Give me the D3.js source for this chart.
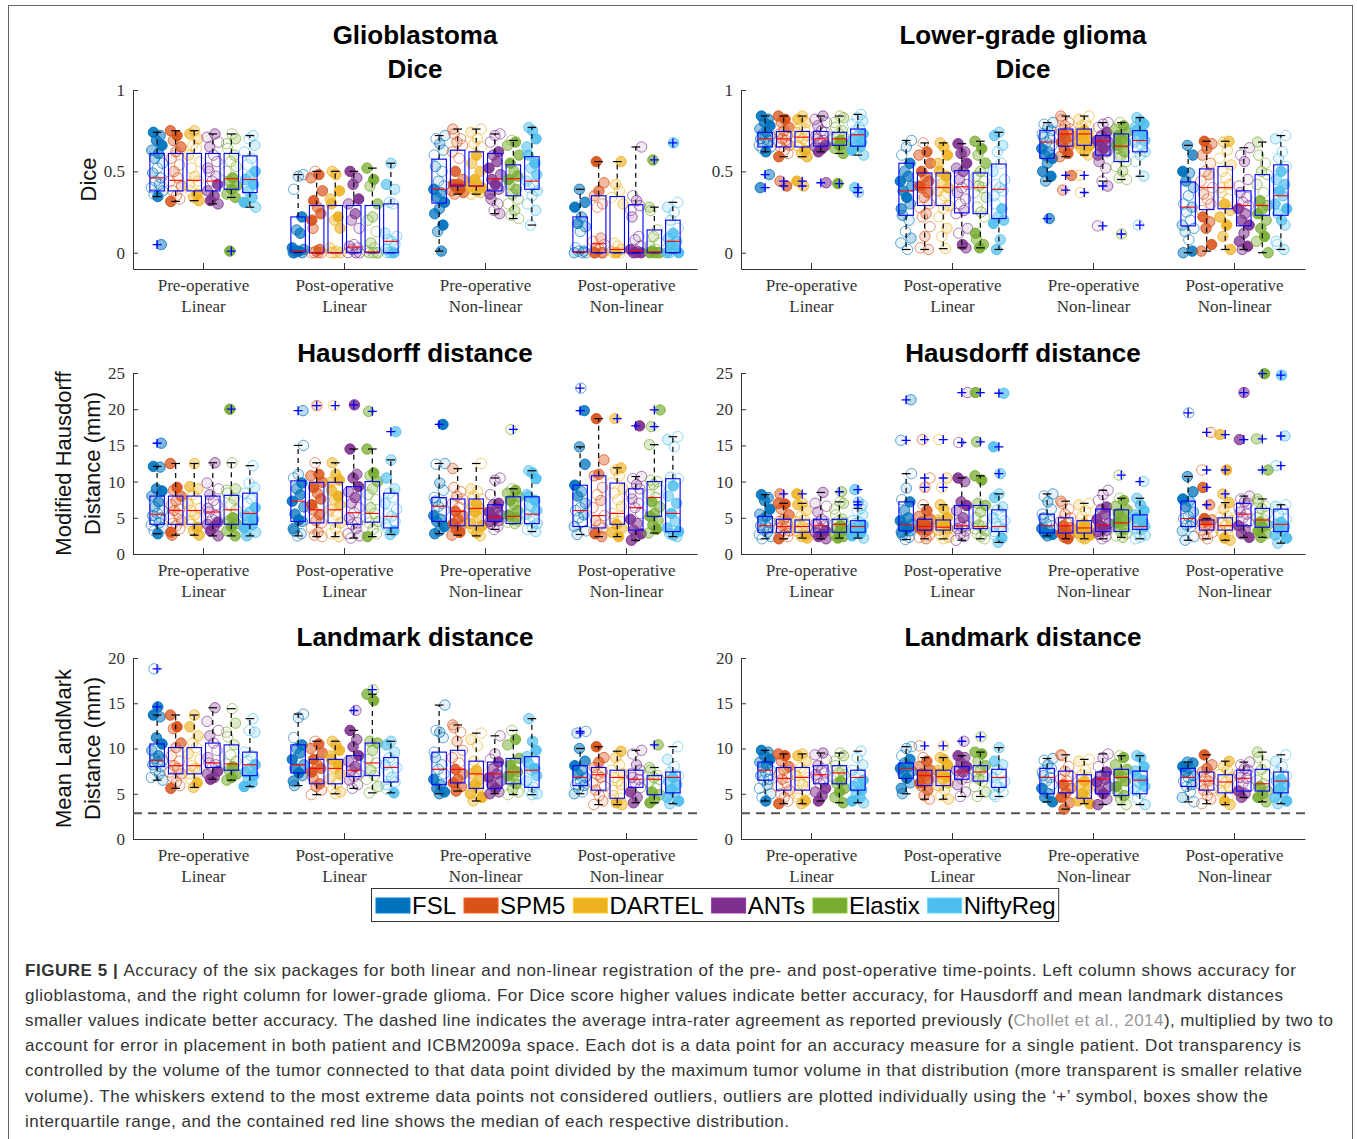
<!DOCTYPE html>
<html>
<head>
<meta charset="utf-8">
<script src="https://cdn.jsdelivr.net/npm/d3@7"></script>
<style>
body { margin: 0; background: #fff; }
svg { display: block; }
</style>
</head>
<body>
<svg id="fig" width="1357" height="1139"></svg>
<script>
const packages = ["FSL", "SPM5", "DARTEL", "ANTs", "Elastix", "NiftyReg"]
const packageColors = ["#0072BD", "#D95319", "#EDB120", "#7E2F8E", "#77AC30", "#4DBEEE"]
const stageNames = ["Pre-operative", "Post-operative", "Pre-operative", "Post-operative"]
const stageMethods = ["Linear", "Linear", "Non-linear", "Non-linear"]

const diceTicks = [0, 0.5, 1]
const hausdorffTicks = [0, 5, 10, 15, 20, 25]
const landmarkTicks = [0, 5, 10, 15, 20]
const intraRaterAgreement = 2.85

// box stats per stage, per package: [lower whisker, q1, median, q3, upper whisker]
const gbmDiceStats = [
    [[0.345, 0.38, 0.46, 0.61, 0.74], [0.315, 0.38, 0.445, 0.61, 0.75], [0.32, 0.38, 0.445, 0.61, 0.75], [0.30, 0.38, 0.44, 0.61, 0.73], [0.34, 0.39, 0.455, 0.61, 0.73], [0.28, 0.37, 0.45, 0.595, 0.72]],
    [[0, 0.005, 0.01, 0.22, 0.48], [0, 0, 0, 0.29, 0.5], [0, 0, 0, 0.29, 0.5], [0, 0, 0.035, 0.29, 0.5], [0, 0, 0.005, 0.29, 0.52], [0, 0, 0.07, 0.30, 0.55]],
    [[0.01, 0.305, 0.39, 0.575, 0.72], [0.36, 0.41, 0.42, 0.63, 0.76], [0.36, 0.41, 0.41, 0.62, 0.76], [0.24, 0.38, 0.455, 0.61, 0.73], [0.21, 0.35, 0.455, 0.54, 0.69], [0.17, 0.39, 0.44, 0.59, 0.77]],
    [[0, 0.005, 0.005, 0.22, 0.39], [0, 0, 0.055, 0.35, 0.56], [0, 0, 0.02, 0.345, 0.56], [0, 0, 0.01, 0.295, 0.65], [0, 0, 0.005, 0.14, 0.28], [0, 0, 0.07, 0.2, 0.31]]
]
const gbmDiceOutliers = [
    [[0.05], [], [], [], [0.01], []],
    [[], [], [], [], [], []],
    [[], [], [], [], [], []],
    [[], [], [], [], [0.57], [0.675]]
]
const gbmDicePoints = [
    [[0.74, 0.72, 0.69, 0.66, 0.63, 0.61, 0.58, 0.55, 0.52, 0.49, 0.46, 0.44, 0.42, 0.40, 0.38, 0.36, 0.345],
     [0.75, 0.72, 0.69, 0.65, 0.62, 0.58, 0.54, 0.5, 0.46, 0.44, 0.41, 0.38, 0.35, 0.33, 0.315],
     [0.75, 0.73, 0.7, 0.66, 0.64, 0.6, 0.56, 0.52, 0.47, 0.44, 0.42, 0.38, 0.36, 0.34, 0.32],
     [0.73, 0.71, 0.68, 0.65, 0.6, 0.56, 0.52, 0.5, 0.47, 0.44, 0.42, 0.38, 0.35, 0.32, 0.30],
     [0.73, 0.7, 0.67, 0.64, 0.6, 0.56, 0.53, 0.5, 0.46, 0.44, 0.41, 0.39, 0.36, 0.34],
     [0.72, 0.7, 0.66, 0.62, 0.58, 0.54, 0.5, 0.47, 0.45, 0.42, 0.38, 0.34, 0.31, 0.28]],
    [[0.48, 0.47, 0.39, 0.22, 0.14, 0.12, 0.03, 0.02, 0.01, 0.01, 0, 0, 0],
     [0.5, 0.48, 0.46, 0.38, 0.32, 0.28, 0.24, 0.2, 0.15, 0.02, 0.01, 0, 0, 0, 0],
     [0.5, 0.48, 0.38, 0.33, 0.3, 0.22, 0.2, 0.15, 0.03, 0.01, 0, 0, 0, 0],
     [0.5, 0.46, 0.42, 0.33, 0.3, 0.24, 0.2, 0.15, 0.05, 0.04, 0.03, 0.02, 0, 0, 0],
     [0.52, 0.45, 0.41, 0.3, 0.22, 0.2, 0.13, 0.06, 0.03, 0.01, 0, 0, 0, 0],
     [0.55, 0.42, 0.39, 0.31, 0.3, 0.12, 0.1, 0.08, 0.07, 0.05, 0.02, 0, 0, 0]],
    [[0.72, 0.7, 0.67, 0.63, 0.6, 0.53, 0.5, 0.44, 0.41, 0.39, 0.37, 0.34, 0.31, 0.27, 0.24, 0.17, 0.13, 0.01],
     [0.76, 0.73, 0.7, 0.68, 0.66, 0.62, 0.58, 0.5, 0.45, 0.42, 0.42, 0.41, 0.4, 0.39, 0.38, 0.37, 0.36],
     [0.76, 0.74, 0.7, 0.67, 0.65, 0.6, 0.55, 0.5, 0.45, 0.42, 0.41, 0.4, 0.39, 0.38, 0.37, 0.36],
     [0.73, 0.72, 0.68, 0.62, 0.6, 0.56, 0.52, 0.48, 0.45, 0.42, 0.39, 0.36, 0.33, 0.3, 0.26, 0.24],
     [0.69, 0.68, 0.66, 0.6, 0.55, 0.5, 0.47, 0.45, 0.42, 0.39, 0.36, 0.33, 0.3, 0.26, 0.23, 0.21],
     [0.77, 0.75, 0.7, 0.65, 0.6, 0.55, 0.52, 0.48, 0.44, 0.42, 0.4, 0.38, 0.35, 0.3, 0.26, 0.17]],
    [[0.39, 0.31, 0.28, 0.22, 0.18, 0.16, 0.13, 0.03, 0.01, 0.01, 0, 0, 0],
     [0.56, 0.43, 0.38, 0.35, 0.3, 0.28, 0.09, 0.07, 0.05, 0.03, 0.02, 0, 0, 0, 0],
     [0.56, 0.42, 0.38, 0.34, 0.3, 0.06, 0.04, 0.02, 0.01, 0, 0, 0],
     [0.65, 0.35, 0.32, 0.29, 0.26, 0.22, 0.1, 0.08, 0.04, 0.02, 0.01, 0, 0, 0],
     [0.28, 0.26, 0.14, 0.1, 0.06, 0.04, 0.02, 0.01, 0, 0, 0, 0],
     [0.31, 0.28, 0.25, 0.2, 0.15, 0.12, 0.09, 0.07, 0.05, 0.02, 0, 0, 0]]
]

const lggDiceStats = [
    [[0.62, 0.65, 0.70, 0.74, 0.84], [0.59, 0.65, 0.70, 0.745, 0.84], [0.59, 0.65, 0.71, 0.745, 0.84], [0.62, 0.655, 0.70, 0.745, 0.84], [0.61, 0.66, 0.70, 0.74, 0.84], [0.60, 0.655, 0.725, 0.76, 0.85]],
    [[0.02, 0.23, 0.38, 0.55, 0.69], [0.02, 0.29, 0.40, 0.49, 0.675], [0.025, 0.29, 0.40, 0.49, 0.675], [0.03, 0.245, 0.405, 0.505, 0.67], [0.03, 0.24, 0.40, 0.49, 0.685], [0.02, 0.21, 0.39, 0.545, 0.74]],
    [[0.44, 0.58, 0.68, 0.75, 0.80], [0.59, 0.655, 0.73, 0.76, 0.84], [0.60, 0.66, 0.73, 0.76, 0.84], [0.44, 0.60, 0.685, 0.72, 0.80], [0.45, 0.56, 0.655, 0.73, 0.80], [0.47, 0.62, 0.69, 0.75, 0.83]],
    [[0, 0.165, 0.28, 0.435, 0.66], [0.01, 0.265, 0.40, 0.515, 0.685], [0.02, 0.27, 0.40, 0.53, 0.685], [0.02, 0.165, 0.29, 0.38, 0.645], [0, 0.23, 0.29, 0.48, 0.68], [0.02, 0.23, 0.35, 0.54, 0.72]]
]
const lggDiceOutliers = [
    [[0.48, 0.40], [0.44, 0.41], [0.44, 0.41], [0.43], [0.425], [0.40, 0.37]],
    [[], [], [], [], [], []],
    [[0.21], [0.475, 0.385], [0.475, 0.37], [0.41, 0.165], [0.115], [0.17]],
    [[], [], [], [], [], []]
]
const lggDicePoints = [
    [[0.84, 0.82, 0.8, 0.78, 0.76, 0.74, 0.73, 0.72, 0.71, 0.7, 0.69, 0.68, 0.67, 0.66, 0.65, 0.64, 0.62],
     [0.84, 0.82, 0.8, 0.77, 0.75, 0.73, 0.72, 0.7, 0.69, 0.68, 0.66, 0.65, 0.63, 0.61, 0.59],
     [0.84, 0.82, 0.8, 0.78, 0.76, 0.74, 0.72, 0.71, 0.7, 0.68, 0.66, 0.65, 0.63, 0.61, 0.59],
     [0.84, 0.82, 0.8, 0.78, 0.75, 0.74, 0.72, 0.7, 0.69, 0.68, 0.66, 0.65, 0.64, 0.62],
     [0.84, 0.83, 0.8, 0.77, 0.75, 0.73, 0.71, 0.7, 0.69, 0.68, 0.67, 0.66, 0.64, 0.61],
     [0.85, 0.83, 0.81, 0.79, 0.77, 0.75, 0.73, 0.72, 0.7, 0.68, 0.66, 0.65, 0.63, 0.6]],
    [[0.69, 0.65, 0.6, 0.55, 0.5, 0.47, 0.44, 0.41, 0.38, 0.34, 0.3, 0.27, 0.23, 0.2, 0.13, 0.09, 0.06, 0.02],
     [0.675, 0.62, 0.6, 0.55, 0.5, 0.47, 0.44, 0.41, 0.4, 0.37, 0.34, 0.3, 0.28, 0.24, 0.22, 0.16, 0.1, 0.03, 0.02],
     [0.675, 0.65, 0.6, 0.55, 0.5, 0.47, 0.43, 0.4, 0.38, 0.35, 0.32, 0.29, 0.27, 0.22, 0.15, 0.1, 0.025],
     [0.67, 0.62, 0.61, 0.55, 0.52, 0.5, 0.45, 0.42, 0.4, 0.37, 0.33, 0.3, 0.26, 0.24, 0.15, 0.12, 0.05, 0.03],
     [0.685, 0.64, 0.6, 0.55, 0.5, 0.47, 0.44, 0.41, 0.4, 0.37, 0.34, 0.28, 0.25, 0.22, 0.12, 0.08, 0.05, 0.03],
     [0.74, 0.72, 0.66, 0.62, 0.55, 0.5, 0.45, 0.42, 0.4, 0.38, 0.35, 0.3, 0.27, 0.22, 0.2, 0.18, 0.08, 0.02]],
    [[0.80, 0.79, 0.77, 0.75, 0.73, 0.71, 0.7, 0.68, 0.66, 0.64, 0.62, 0.6, 0.58, 0.55, 0.5, 0.47, 0.44],
     [0.84, 0.82, 0.8, 0.78, 0.76, 0.75, 0.74, 0.73, 0.72, 0.7, 0.68, 0.66, 0.64, 0.61, 0.59],
     [0.84, 0.82, 0.8, 0.78, 0.77, 0.75, 0.74, 0.73, 0.71, 0.69, 0.67, 0.66, 0.64, 0.62, 0.6],
     [0.80, 0.79, 0.77, 0.74, 0.72, 0.7, 0.69, 0.68, 0.66, 0.64, 0.62, 0.6, 0.56, 0.52, 0.44],
     [0.80, 0.78, 0.76, 0.74, 0.72, 0.7, 0.68, 0.66, 0.64, 0.62, 0.59, 0.56, 0.53, 0.5, 0.46, 0.45],
     [0.83, 0.81, 0.79, 0.77, 0.75, 0.73, 0.71, 0.69, 0.68, 0.66, 0.64, 0.62, 0.6, 0.56, 0.47]],
    [[0.66, 0.6, 0.5, 0.49, 0.44, 0.4, 0.35, 0.3, 0.28, 0.25, 0.2, 0.17, 0.15, 0.13, 0.08, 0.01, 0],
     [0.685, 0.67, 0.64, 0.6, 0.55, 0.5, 0.48, 0.44, 0.4, 0.36, 0.33, 0.3, 0.26, 0.22, 0.19, 0.15, 0.05, 0.01],
     [0.685, 0.68, 0.63, 0.58, 0.54, 0.5, 0.46, 0.42, 0.4, 0.37, 0.33, 0.3, 0.26, 0.22, 0.17, 0.1, 0.02],
     [0.645, 0.6, 0.56, 0.45, 0.41, 0.37, 0.34, 0.31, 0.29, 0.27, 0.24, 0.2, 0.17, 0.12, 0.07, 0.04, 0.02],
     [0.68, 0.6, 0.55, 0.5, 0.48, 0.42, 0.37, 0.32, 0.29, 0.27, 0.24, 0.2, 0.15, 0.1, 0.07, 0.0],
     [0.72, 0.7, 0.62, 0.58, 0.53, 0.5, 0.45, 0.42, 0.38, 0.35, 0.3, 0.27, 0.24, 0.2, 0.17, 0.07, 0.05, 0.02]]
]

const gbmHausStats = [
    [[2.8, 4.1, 5.5, 8.0, 12.1], [2.6, 4.1, 6.0, 8.0, 12.5], [2.6, 4.1, 6.0, 8.0, 12.5], [2.5, 4.1, 5.8, 8.0, 12.6], [2.5, 4.1, 6.1, 8.1, 12.6], [2.5, 4.1, 5.6, 8.4, 12.2]],
    [[2.5, 4.5, 7.3, 10.1, 15.0], [2.4, 4.3, 6.1, 9.9, 12.6], [2.4, 4.3, 6.1, 9.9, 12.6], [2.2, 4.1, 5.7, 9.3, 14.5], [2.4, 4.4, 5.6, 10.0, 14.5], [2.7, 3.6, 5.2, 8.4, 13.0]],
    [[2.8, 4.5, 6.6, 7.8, 12.5], [2.6, 3.9, 5.9, 7.6, 11.8], [2.5, 3.9, 6.3, 7.6, 12.5], [3.4, 4.5, 5.2, 6.8, 10.5], [4.2, 4.2, 5.2, 7.9, 9.0], [3.1, 4.2, 5.5, 7.9, 11.5]],
    [[2.7, 3.8, 6.0, 9.5, 14.8], [2.4, 3.6, 5.3, 10.8, 18.7], [2.4, 4.1, 5.6, 9.8, 11.9], [1.9, 3.3, 6.4, 9.0, 10.7], [2.9, 5.2, 7.8, 10.0, 15.1], [2.4, 3.1, 5.6, 10.4, 16.2]]
]
const gbmHausOutliers = [
    [[15.3], [], [], [], [20.0], []],
    [[19.8], [20.5], [20.5], [20.6], [19.7], [16.9]],
    [[17.9], [], [], [], [17.2], []],
    [[22.9, 19.8], [], [18.7], [17.7], [19.9, 17.6], []]
]
const gbmHausPoints = [
    [[12.1, 12.0, 9.0, 8.7, 8.0, 7.2, 6.5, 6.0, 5.6, 5.3, 5.0, 4.6, 4.3, 4.0, 3.6, 3.2, 2.8],
     [12.5, 9.2, 8.8, 8.0, 7.3, 6.8, 6.2, 6.0, 5.5, 5.0, 4.6, 4.2, 3.9, 3.5, 3.0, 2.6],
     [12.5, 9.3, 9.0, 8.2, 7.6, 6.9, 6.3, 6.0, 5.4, 5.0, 4.5, 4.1, 3.7, 3.2, 2.6],
     [12.6, 9.8, 9.0, 8.2, 7.4, 6.8, 6.3, 5.8, 5.3, 4.8, 4.4, 4.1, 3.8, 3.2, 2.5],
     [12.6, 9.0, 8.8, 8.4, 7.6, 6.8, 6.1, 5.5, 5.0, 4.6, 4.2, 3.8, 3.2, 2.5],
     [12.2, 9.8, 9.2, 8.4, 7.6, 7.0, 6.4, 5.8, 5.3, 4.8, 4.4, 4.0, 3.6, 3.0, 2.5]],
    [[15.0, 11.0, 10.5, 9.8, 9.0, 8.2, 7.3, 6.5, 5.5, 4.7, 4.5, 3.5, 3.2, 2.8, 2.5],
     [12.6, 11.0, 10.8, 9.9, 9.2, 8.4, 7.6, 6.8, 6.1, 5.4, 4.6, 4.3, 3.6, 3.0, 2.6, 2.4],
     [12.6, 11.0, 10.2, 9.9, 8.8, 8.0, 7.5, 6.8, 6.1, 5.4, 4.6, 4.3, 3.5, 2.8, 2.4],
     [14.5, 11.0, 10.5, 9.3, 8.6, 7.8, 7.0, 6.4, 5.7, 5.0, 4.3, 4.1, 3.5, 2.8, 2.5, 2.2],
     [14.5, 11.2, 10.8, 10.0, 9.0, 8.2, 7.5, 6.4, 5.6, 5.0, 4.5, 4.3, 3.4, 2.8, 2.4],
     [13.0, 10.5, 9.0, 8.4, 7.8, 7.0, 6.2, 5.5, 5.2, 4.5, 4.0, 3.6, 3.2, 2.7]],
    [[12.5, 12.4, 9.8, 8.8, 7.8, 7.3, 7.0, 6.6, 6.0, 5.3, 4.8, 4.5, 3.8, 3.2, 2.8],
     [11.8, 9.2, 8.6, 8.0, 7.6, 7.0, 6.4, 5.9, 5.3, 4.8, 4.2, 3.9, 3.4, 3.0, 2.6],
     [12.5, 9.0, 8.6, 8.0, 7.6, 7.0, 6.6, 6.3, 5.8, 5.0, 4.2, 3.9, 3.4, 2.9, 2.5],
     [10.5, 10.2, 8.2, 7.0, 6.8, 6.4, 5.8, 5.4, 5.2, 4.9, 4.6, 4.5, 4.2, 3.8, 3.4],
     [9.0, 8.8, 8.4, 7.9, 7.4, 6.8, 6.0, 5.4, 5.2, 5.0, 4.8, 4.6, 4.4, 4.2],
     [11.5, 11.2, 10.4, 8.2, 7.9, 7.4, 6.6, 6.0, 5.5, 5.0, 4.6, 4.2, 3.8, 3.4, 3.1]],
    [[14.8, 12.4, 9.5, 8.6, 8.0, 7.0, 6.4, 6.0, 5.4, 5.0, 4.4, 3.8, 3.2, 2.7],
     [18.7, 13.0, 11.0, 10.8, 9.2, 8.2, 7.4, 6.4, 5.3, 4.6, 4.0, 3.6, 3.2, 2.8, 2.4],
     [11.9, 11.6, 10.8, 9.8, 9.0, 8.4, 7.5, 6.6, 5.6, 5.0, 4.5, 4.1, 3.6, 3.0, 2.4],
     [10.7, 10.4, 9.6, 9.0, 8.4, 7.6, 7.0, 6.4, 5.6, 4.8, 4.2, 3.3, 2.8, 2.4, 1.9],
     [15.1, 10.2, 10.0, 9.6, 9.0, 8.2, 7.8, 7.2, 6.5, 5.6, 5.2, 4.6, 4.0, 3.4, 2.9],
     [16.2, 15.8, 14.8, 10.6, 10.4, 9.4, 8.0, 7.0, 5.6, 4.5, 3.6, 3.1, 2.8, 2.6, 2.4]]
]

const lggHausStats = [
    [[2.1, 3.0, 3.9, 5.2, 8.2], [2.1, 3.0, 3.8, 4.8, 7.0], [2.2, 3.0, 3.8, 4.7, 7.0], [2.1, 3.0, 3.9, 4.8, 8.5], [2.2, 3.0, 4.1, 4.8, 7.2], [2.2, 3.0, 3.8, 4.6, 6.3]],
    [[2.0, 3.2, 4.1, 7.2, 11.1], [2.1, 3.3, 3.8, 4.8, 6.8], [2.1, 3.3, 3.7, 4.7, 6.8], [1.9, 3.5, 3.9, 6.7, 10.5], [2.1, 3.5, 3.8, 6.7, 10.8], [1.6, 3.1, 3.8, 6.1, 8.3]],
    [[2.5, 2.9, 3.9, 5.5, 8.3], [2.1, 2.9, 3.9, 5.0, 7.3], [2.1, 2.9, 3.6, 4.6, 7.0], [2.1, 3.1, 4.0, 6.2, 8.8], [2.3, 3.1, 4.3, 6.1, 7.7], [2.1, 3.4, 3.8, 5.4, 7.7]],
    [[1.9, 3.8, 4.9, 7.3, 10.7], [2.1, 3.3, 4.1, 4.7, 4.9], [1.9, 3.3, 3.9, 5.0, 7.1], [2.3, 3.9, 5.5, 7.0, 8.0], [2.3, 3.7, 4.7, 6.3, 7.6], [1.5, 3.1, 4.1, 6.2, 6.8]]
]
const lggHausOutliers = [
    [[], [8.3], [8.3], [], [8.6], [8.9, 7.2, 6.8]],
    [[21.3, 15.7], [15.8, 10.5, 9.2], [15.8, 10.5, 9.2], [22.3, 15.4], [22.3, 15.5], [22.2, 14.8, 11.1]],
    [[], [], [], [], [10.9], [10.0]],
    [[19.5], [16.8, 11.6, 9.2, 6.8], [16.5, 11.6, 8.3], [22.3, 15.8], [24.9, 15.9, 11.6], [24.7, 16.3, 12.2]]
]
const lggHausPoints = [
    [[8.2, 7.8, 7.4, 6.2, 5.5, 5.2, 4.8, 4.4, 4.0, 3.9, 3.6, 3.3, 3.0, 2.7, 2.4, 2.1],
     [7.0, 6.9, 6.2, 5.4, 4.8, 4.5, 4.2, 3.9, 3.8, 3.5, 3.2, 3.0, 2.7, 2.4, 2.1],
     [7.0, 6.8, 6.0, 5.2, 4.7, 4.5, 4.2, 3.9, 3.8, 3.5, 3.2, 3.0, 2.6, 2.4, 2.2],
     [8.5, 7.0, 6.6, 5.8, 4.8, 4.5, 4.2, 4.0, 3.9, 3.5, 3.2, 3.0, 2.7, 2.4, 2.1],
     [7.2, 7.0, 6.2, 5.4, 4.8, 4.6, 4.3, 4.1, 3.9, 3.6, 3.3, 3.0, 2.6, 2.4, 2.2],
     [6.3, 6.0, 5.4, 4.6, 4.4, 4.2, 4.0, 3.8, 3.6, 3.3, 3.0, 2.8, 2.5, 2.2]],
    [[11.1, 9.1, 7.5, 7.2, 6.0, 5.0, 4.6, 4.1, 3.8, 3.5, 3.2, 3.0, 2.6, 2.3, 2.0],
     [6.8, 6.0, 5.2, 4.8, 4.4, 4.0, 3.8, 3.6, 3.4, 3.3, 3.0, 2.6, 2.3, 2.1],
     [6.8, 6.2, 5.0, 4.7, 4.4, 4.0, 3.7, 3.5, 3.3, 3.0, 2.6, 2.3, 2.1],
     [10.5, 10.0, 7.2, 6.7, 6.0, 5.0, 4.4, 3.9, 3.7, 3.5, 3.2, 2.8, 2.4, 1.9],
     [10.8, 10.2, 7.0, 6.7, 5.8, 5.0, 4.6, 4.0, 3.8, 3.5, 3.2, 2.8, 2.4, 2.1],
     [8.3, 7.8, 6.5, 6.1, 5.4, 5.0, 4.6, 4.2, 3.8, 3.4, 3.1, 2.6, 2.2, 1.6]],
    [[8.3, 8.0, 7.2, 6.2, 5.5, 5.0, 4.6, 4.2, 3.9, 3.5, 3.2, 2.9, 2.7, 2.5],
     [7.3, 7.0, 6.2, 5.5, 5.0, 4.5, 4.2, 3.9, 3.6, 3.3, 2.9, 2.6, 2.3, 2.1],
     [7.0, 6.8, 6.0, 5.2, 4.6, 4.2, 3.9, 3.6, 3.4, 3.1, 2.9, 2.6, 2.3, 2.1],
     [8.8, 8.2, 7.4, 6.5, 6.2, 5.5, 4.8, 4.2, 4.0, 3.6, 3.3, 3.1, 2.7, 2.4, 2.1],
     [7.7, 7.4, 6.6, 6.1, 5.6, 5.0, 4.6, 4.3, 3.8, 3.4, 3.1, 2.8, 2.5, 2.3],
     [7.7, 6.8, 6.0, 5.4, 5.0, 4.5, 4.1, 3.8, 3.6, 3.4, 3.0, 2.6, 2.3, 2.1]],
    [[10.7, 8.6, 7.6, 7.3, 6.5, 5.8, 5.2, 4.9, 4.4, 4.0, 3.8, 3.2, 2.4, 1.9],
     [4.9, 4.7, 4.5, 4.3, 4.1, 3.9, 3.6, 3.3, 3.0, 2.6, 2.1],
     [7.1, 6.2, 5.2, 5.0, 4.6, 4.2, 3.9, 3.6, 3.3, 3.0, 2.6, 2.2, 1.9],
     [8.0, 7.6, 7.2, 7.0, 6.4, 5.8, 5.5, 5.0, 4.4, 3.9, 3.4, 2.8, 2.3],
     [7.6, 7.2, 6.6, 6.3, 5.6, 5.0, 4.7, 4.4, 4.0, 3.7, 3.2, 2.8, 2.3],
     [6.8, 6.6, 6.2, 5.4, 4.8, 4.4, 4.1, 3.8, 3.5, 3.1, 2.6, 2.2, 1.5]]
]

const gbmLandStats = [
    [[6.5, 8.0, 8.7, 10.5, 13.7], [5.6, 7.2, 8.1, 10.1, 13.7], [5.7, 7.2, 8.1, 10.1, 13.7], [6.6, 7.9, 8.4, 10.6, 14.5], [6.5, 7.6, 8.3, 10.4, 14.4], [5.8, 7.0, 8.2, 9.6, 13.3]],
    [[5.9, 7.3, 8.2, 10.4, 13.8], [4.9, 6.1, 7.8, 8.8, 10.8], [5.0, 6.1, 7.8, 8.8, 10.8], [5.6, 6.9, 7.6, 9.2, 12.0], [5.1, 7.0, 8.4, 10.6, 16.0], [5.1, 6.3, 7.9, 9.0, 10.8]],
    [[5.0, 6.0, 7.7, 9.6, 14.8], [5.3, 6.2, 7.7, 9.8, 12.6], [4.2, 5.6, 7.2, 8.6, 11.7], [5.0, 5.6, 7.2, 8.5, 11.4], [4.9, 6.1, 7.4, 8.9, 12.0], [4.9, 5.7, 7.6, 9.1, 13.3]],
    [[5.0, 5.9, 6.8, 8.1, 10.0], [3.8, 5.4, 7.1, 7.9, 10.2], [3.8, 4.5, 6.8, 7.6, 9.7], [4.0, 5.7, 6.6, 7.6, 9.8], [4.0, 4.9, 6.6, 7.0, 7.9], [3.9, 5.1, 6.8, 7.4, 10.2]]
]
const gbmLandOutliers = [
    [[18.8, 14.6], [], [], [], [], []],
    [[], [], [], [14.2], [16.5], []],
    [[], [], [], [], [], []],
    [[11.9, 11.7], [], [], [], [10.4], []]
]
const gbmLandPoints = [
    [[13.7, 13.5, 11.2, 10.5, 9.8, 9.2, 8.9, 8.7, 8.5, 8.2, 8.0, 7.6, 7.2, 6.8, 6.5],
     [13.7, 12.4, 12.2, 10.6, 10.1, 9.2, 8.6, 8.1, 7.8, 7.4, 7.2, 6.8, 6.3, 5.9, 5.6],
     [13.7, 12.4, 11.4, 10.6, 10.1, 9.4, 8.8, 8.1, 7.8, 7.4, 7.2, 6.6, 6.2, 5.7],
     [14.5, 13.0, 12.0, 11.4, 10.6, 9.8, 9.0, 8.4, 8.2, 7.9, 7.5, 7.2, 6.8, 6.6],
     [14.4, 12.8, 11.8, 11.3, 10.4, 9.3, 8.6, 8.3, 8.0, 7.6, 7.2, 6.8, 6.5],
     [13.3, 12.0, 11.8, 9.6, 9.2, 8.6, 8.2, 7.8, 7.4, 7.0, 6.6, 6.2, 5.8]],
    [[13.8, 13.4, 11.2, 10.4, 10.0, 9.5, 8.8, 8.2, 7.8, 7.3, 7.0, 6.4, 5.9],
     [10.8, 10.5, 10.0, 9.5, 8.8, 8.2, 7.8, 7.4, 6.8, 6.1, 5.8, 5.4, 4.9],
     [10.8, 10.4, 9.8, 9.2, 8.8, 8.2, 7.8, 7.2, 6.6, 6.1, 5.6, 5.2, 5.0],
     [12.0, 11.0, 10.2, 9.2, 8.6, 8.0, 7.6, 7.2, 6.9, 6.5, 6.0, 5.6],
     [16.0, 15.3, 10.8, 10.6, 9.8, 8.8, 8.4, 7.6, 7.0, 6.6, 5.8, 5.1],
     [10.8, 10.4, 9.6, 9.0, 8.6, 8.2, 7.9, 7.4, 6.8, 6.3, 6.0, 5.5, 5.1]],
    [[14.8, 12.0, 11.8, 11.2, 9.6, 9.0, 8.2, 7.7, 7.2, 6.6, 6.0, 5.6, 5.2, 5.0],
     [12.6, 12.3, 11.8, 10.8, 9.8, 9.0, 8.4, 7.7, 7.2, 6.6, 6.2, 5.8, 5.3],
     [11.7, 11.0, 10.3, 8.6, 8.0, 7.6, 7.2, 6.6, 6.0, 5.6, 5.0, 4.6, 4.2],
     [11.4, 9.4, 8.8, 8.5, 7.8, 7.2, 6.8, 6.4, 6.0, 5.6, 5.2, 5.0],
     [12.0, 11.0, 10.4, 8.9, 8.2, 7.6, 7.4, 7.0, 6.5, 6.1, 5.5, 5.2, 4.9],
     [13.3, 10.8, 9.8, 9.1, 8.4, 7.8, 7.6, 7.0, 6.4, 5.7, 5.4, 5.0, 4.9]],
    [[10.0, 8.6, 8.1, 7.6, 7.2, 6.8, 6.4, 6.0, 5.9, 5.6, 5.2, 5.0],
     [10.2, 9.0, 8.5, 7.9, 7.4, 7.1, 6.8, 6.2, 5.8, 5.4, 4.8, 4.2, 3.8],
     [9.7, 9.0, 8.2, 7.6, 7.2, 6.8, 6.4, 6.0, 5.4, 4.8, 4.5, 4.0, 3.8],
     [9.8, 9.4, 8.2, 7.6, 7.2, 6.8, 6.6, 6.2, 5.7, 5.2, 4.6, 4.0],
     [7.9, 7.6, 7.0, 6.8, 6.6, 6.2, 5.6, 5.2, 4.9, 4.4, 4.0],
     [10.2, 8.8, 8.0, 7.4, 7.0, 6.8, 6.4, 6.0, 5.5, 5.1, 4.6, 4.2, 3.9]]
]

const lggLandStats = [
    [[4.2, 6.5, 7.6, 8.5, 9.8], [3.9, 5.4, 6.7, 7.9, 9.4], [3.9, 5.4, 6.8, 7.9, 9.4], [4.2, 6.1, 7.1, 8.1, 9.5], [4.0, 6.1, 7.3, 8.1, 9.5], [4.0, 5.4, 6.8, 7.6, 9.7]],
    [[5.0, 6.7, 7.8, 8.4, 10.2], [4.4, 5.9, 7.0, 7.6, 9.0], [4.4, 5.9, 6.9, 7.6, 9.0], [4.7, 6.6, 7.4, 8.0, 9.2], [4.7, 6.4, 7.4, 8.1, 9.6], [4.7, 5.7, 6.8, 7.7, 10.1]],
    [[4.1, 5.0, 6.8, 7.8, 8.9], [3.3, 5.1, 6.4, 7.5, 9.3], [3.9, 4.5, 6.4, 7.1, 8.8], [3.8, 5.0, 6.6, 7.4, 9.4], [3.8, 4.8, 6.8, 7.7, 9.2], [3.8, 5.0, 6.5, 7.5, 9.2]],
    [[4.1, 5.8, 6.8, 7.8, 8.5], [3.9, 5.4, 6.4, 7.4, 9.3], [3.8, 5.1, 6.3, 7.1, 8.6], [4.6, 5.3, 6.7, 7.6, 8.5], [4.1, 5.3, 6.1, 7.7, 9.6], [3.9, 5.1, 6.4, 7.4, 9.3]]
]
const lggLandOutliers = [
    [[], [], [], [], [], []],
    [[], [10.3], [10.3], [10.8], [11.3], []],
    [[], [], [], [], [], []],
    [[], [], [], [], [], []]
]
const lggLandPoints = [
    [[9.8, 9.6, 9.2, 8.8, 8.5, 8.2, 7.9, 7.6, 7.4, 7.0, 6.6, 6.5, 6.0, 5.6, 5.0, 4.6, 4.2],
     [9.4, 9.2, 8.6, 8.0, 7.6, 7.2, 6.8, 6.6, 6.2, 5.8, 5.4, 5.0, 4.6, 4.2, 3.9],
     [9.4, 9.2, 8.6, 7.9, 7.4, 7.0, 6.8, 6.4, 6.0, 5.4, 5.0, 4.5, 4.2, 3.9],
     [9.5, 9.3, 8.8, 8.1, 7.6, 7.3, 7.1, 6.8, 6.4, 6.1, 5.6, 5.2, 4.8, 4.2],
     [9.5, 9.2, 8.6, 8.1, 7.6, 7.3, 7.1, 6.8, 6.4, 6.1, 5.6, 5.2, 4.6, 4.0],
     [9.7, 9.0, 8.2, 7.6, 7.2, 6.8, 6.5, 6.2, 5.8, 5.4, 5.0, 4.6, 4.2, 4.0]],
    [[10.2, 10.0, 9.2, 8.8, 8.4, 8.0, 7.8, 7.5, 7.2, 6.7, 6.2, 5.6, 5.0],
     [9.0, 8.6, 8.0, 7.6, 7.2, 7.0, 6.6, 6.2, 5.9, 5.4, 4.8, 4.4],
     [9.0, 8.8, 8.2, 7.6, 7.2, 6.9, 6.6, 6.2, 5.9, 5.4, 4.8, 4.4],
     [9.2, 9.0, 8.4, 8.0, 7.6, 7.4, 7.1, 6.8, 6.6, 6.0, 5.2, 4.7],
     [9.6, 9.4, 8.6, 8.1, 7.6, 7.4, 7.0, 6.6, 6.4, 5.8, 5.2, 4.7],
     [10.1, 8.6, 8.2, 7.7, 7.2, 6.8, 6.4, 6.0, 5.7, 5.2, 4.9, 4.7]],
    [[8.9, 8.7, 8.2, 7.8, 7.4, 7.0, 6.8, 6.4, 6.0, 5.6, 5.0, 4.6, 4.1],
     [9.3, 9.2, 8.0, 7.5, 7.0, 6.6, 6.4, 6.0, 5.6, 5.1, 4.6, 4.0, 3.3],
     [8.8, 8.6, 7.6, 7.1, 6.8, 6.4, 6.0, 5.6, 5.0, 4.5, 4.2, 3.9],
     [9.4, 9.0, 8.0, 7.4, 7.0, 6.6, 6.3, 5.8, 5.4, 5.0, 4.4, 3.8],
     [9.2, 9.0, 8.2, 7.7, 7.2, 6.8, 6.4, 5.8, 5.2, 4.8, 4.4, 3.8],
     [9.2, 9.0, 8.0, 7.5, 7.0, 6.5, 6.2, 5.8, 5.4, 5.0, 4.5, 3.8]],
    [[8.5, 8.4, 8.0, 7.8, 7.4, 7.0, 6.8, 6.4, 6.0, 5.8, 5.2, 4.6, 4.1],
     [9.3, 8.2, 7.8, 7.4, 7.0, 6.6, 6.4, 6.0, 5.6, 5.4, 4.8, 4.4, 3.9],
     [8.6, 8.0, 7.6, 7.1, 6.8, 6.4, 6.3, 5.8, 5.4, 5.1, 4.6, 4.2, 3.8],
     [8.5, 8.2, 7.8, 7.6, 7.2, 6.8, 6.7, 6.2, 5.8, 5.3, 5.0, 4.6],
     [9.6, 9.0, 8.2, 7.7, 7.0, 6.5, 6.1, 5.8, 5.3, 5.0, 4.6, 4.1],
     [9.3, 8.6, 8.0, 7.4, 7.0, 6.6, 6.4, 6.0, 5.5, 5.1, 4.6, 4.2, 3.9]]
]

const captionLines = [
    [["FIGURE 5 | ", "bold"], ["Accuracy of the six packages for both linear and non-linear registration of the pre- and post-operative time-points. Left column shows accuracy for", ""]],
    [["glioblastoma, and the right column for lower-grade glioma. For Dice score higher values indicate better accuracy, for Hausdorff and mean landmark distances", ""]],
    [["smaller values indicate better accuracy. The dashed line indicates the average intra-rater agreement as reported previously (", ""], ["Chollet et al., 2014", "cite"], ["), multiplied by two to", ""]],
    [["account for error in placement in both patient and ICBM2009a space. Each dot is a data point for an accuracy measure for a single patient. Dot transparency is", ""]],
    [["controlled by the volume of the tumor connected to that data point divided by the maximum tumor volume in that distribution (more transparent is smaller relative", ""]],
    [["volume). The whiskers extend to the most extreme data points not considered outliers, outliers are plotted individually using the \u2018+\u2019 symbol, boxes show the", ""]],
    [["interquartile range, and the contained red line shows the median of each respective distribution.", ""]]
]
const captionLineEnds = [1296, 1283, 1333, 1301, 1302, 1268, 789]

// jitter and transparency patterns for the dots (stand-ins for tumour volume)
const jitterPattern = [-0.32, 0.26, -0.06, 0.42, -0.46, 0.12, -0.2, 0.46, 0.02, -0.38, 0.33, -0.13, 0.19, -0.5, 0.5, -0.26, 0.06, 0.36, -0.42]
const alphaPattern = [0.9, 0.08, 0.55, 0, 0.75, 0.2, 0.95, 0.04, 0.4, 0.12, 0.65, 0, 0.3, 0.85, 0.1, 0.5, 0, 0.7, 0.25]

const serif = "'Liberation Serif', 'Times New Roman', serif"
const sans = "'Liberation Sans', Arial, Helvetica, sans-serif"
const axisColor = "#333"

const svg = d3.select("#fig")

svg.append("rect")
    .attr("x", 8.5).attr("y", 5.5)
    .attr("width", 1344).attr("height", 1145)
    .attr("fill", "none")
    .attr("stroke", "#666")

const leftCol = { left: 133, right: 697 }
const rightCol = { left: 741, right: 1305 }
const diceRow = { top: 90, bottom: 269, domain: [-0.1, 1], ticks: diceTicks }
const hausRow = { top: 373, bottom: 554, domain: [0, 25], ticks: hausdorffTicks }
const landRow = { top: 658, bottom: 839, domain: [0, 20], ticks: landmarkTicks }

const panels = [
    { ...leftCol, ...diceRow, stats: gbmDiceStats, outliers: gbmDiceOutliers, points: gbmDicePoints, title: ["Glioblastoma", "Dice"], titleY: [44, 78], yLabel: ["Dice"] },
    { ...rightCol, ...diceRow, stats: lggDiceStats, outliers: lggDiceOutliers, points: lggDicePoints, title: ["Lower-grade glioma", "Dice"], titleY: [44, 78], yLabel: [] },
    { ...leftCol, ...hausRow, stats: gbmHausStats, outliers: gbmHausOutliers, points: gbmHausPoints, title: ["Hausdorff distance"], titleY: [362], yLabel: ["Modified Hausdorff", "Distance (mm)"] },
    { ...rightCol, ...hausRow, stats: lggHausStats, outliers: lggHausOutliers, points: lggHausPoints, title: ["Hausdorff distance"], titleY: [362], yLabel: [] },
    { ...leftCol, ...landRow, stats: gbmLandStats, outliers: gbmLandOutliers, points: gbmLandPoints, title: ["Landmark distance"], titleY: [646], yLabel: ["Mean LandMark", "Distance (mm)"], dashed: intraRaterAgreement },
    { ...rightCol, ...landRow, stats: lggLandStats, outliers: lggLandOutliers, points: lggLandPoints, title: ["Landmark distance"], titleY: [646], yLabel: [], dashed: intraRaterAgreement }
]

const drawPanel = (p) => {
    const g = svg.append("g")
    const y = d3.scaleLinear().domain(p.domain).range([p.bottom, p.top])
    const xStage = d3.scaleBand().domain(d3.range(4)).range([p.left, p.right])
    const xPkg = d3.scaleBand().domain(packages).range([0, xStage.bandwidth()]).paddingOuter(0.8)
    const boxW = xPkg.step() * 0.78
    const centerOf = (si, pi) => xStage(si) + xPkg(packages[pi]) + xPkg.bandwidth() / 2

    // titles
    p.title.forEach((t, i) => {
        g.append("text")
            .attr("x", (p.left + p.right) / 2)
            .attr("y", p.titleY[i])
            .attr("text-anchor", "middle")
            .attr("font-family", sans)
            .attr("font-weight", "bold")
            .attr("font-size", 26)
            .attr("fill", "#000")
            .text(t)
    })

    // y label
    const labelXs = p.yLabel.length === 1 ? [88] : [63, 92]
    p.yLabel.forEach((t, i) => {
        g.append("text")
            .attr("transform", `translate(${labelXs[i]},${(p.top + p.bottom) / 2}) rotate(-90)`)
            .attr("text-anchor", "middle")
            .attr("dominant-baseline", "central")
            .attr("font-family", sans)
            .attr("font-size", 22)
            .attr("fill", "#111")
            .text(t)
    })

    // axes
    const yAxis = g.append("g")
        .attr("transform", `translate(${p.left},0)`)
        .call(d3.axisLeft(y).tickValues(p.ticks).tickSizeInner(-5).tickSizeOuter(0).tickPadding(8).tickFormat(d3.format("")))
    const xAxis = g.append("g")
        .attr("transform", `translate(0,${p.bottom})`)
        .call(d3.axisBottom(xStage).tickSizeInner(-6).tickSizeOuter(0).tickFormat(() => ""))
    ;[yAxis, xAxis].forEach((a) => {
        a.selectAll(".domain").attr("stroke", axisColor)
        a.selectAll(".tick line").attr("stroke", axisColor)
        a.selectAll("text")
            .attr("font-family", serif)
            .attr("font-size", 17)
            .attr("fill", axisColor)
    })

    // stage labels
    d3.range(4).forEach((si) => {
        const t = g.append("text")
            .attr("x", xStage(si) + xStage.bandwidth() / 2)
            .attr("y", p.bottom + 22)
            .attr("text-anchor", "middle")
            .attr("font-family", serif)
            .attr("font-size", 17)
            .attr("fill", axisColor)
        t.append("tspan").text(stageNames[si])
        t.append("tspan")
            .attr("x", xStage(si) + xStage.bandwidth() / 2)
            .attr("dy", 21)
            .text(stageMethods[si])
    })

    // dashed reference line
    if (p.dashed !== undefined) {
        g.append("line")
            .attr("x1", p.left).attr("x2", p.right)
            .attr("y1", y(p.dashed)).attr("y2", y(p.dashed))
            .attr("stroke", "#555")
            .attr("stroke-width", 2)
            .attr("stroke-dasharray", "9,6")
    }

    // dots
    p.points.forEach((stage, si) => stage.forEach((vals, pi) => {
        const cx = centerOf(si, pi)
        const all = vals.concat(p.outliers[si][pi])
        const shift = pi * 4 + si * 7
        g.append("g").selectAll("circle")
            .data(all)
            .join("circle")
            .attr("cx", (d, i) => cx + jitterPattern[(i + shift) % jitterPattern.length] * boxW * 0.8)
            .attr("cy", (d) => y(d))
            .attr("r", 5.2)
            .attr("fill", packageColors[pi])
            .attr("fill-opacity", (d, i) => alphaPattern[(i * 2 + shift) % alphaPattern.length])
            .attr("stroke", packageColors[pi])
            .attr("stroke-opacity", (d, i) => 0.6 + 0.4 * alphaPattern[(i * 2 + shift) % alphaPattern.length])
            .attr("stroke-width", 1)
    }))

    // boxes
    p.stats.forEach((stage, si) => stage.forEach((s, pi) => {
        const [lo, q1, med, q3, hi] = s
        const cx = centerOf(si, pi)
        const bg = g.append("g")
        bg.append("line")
            .attr("x1", cx).attr("x2", cx)
            .attr("y1", y(q3)).attr("y2", y(hi))
            .attr("stroke", "#000").attr("stroke-width", 1.2).attr("stroke-dasharray", "5,4")
        bg.append("line")
            .attr("x1", cx).attr("x2", cx)
            .attr("y1", y(q1)).attr("y2", y(lo))
            .attr("stroke", "#000").attr("stroke-width", 1.2).attr("stroke-dasharray", "5,4")
        ;[lo, hi].forEach((v) => {
            bg.append("line")
                .attr("x1", cx - boxW * 0.3).attr("x2", cx + boxW * 0.3)
                .attr("y1", y(v)).attr("y2", y(v))
                .attr("stroke", "#000")
                .attr("stroke-width", 1.2)
        })
        bg.append("rect")
            .attr("x", cx - boxW / 2)
            .attr("y", y(q3))
            .attr("width", boxW)
            .attr("height", Math.max(0.5, y(q1) - y(q3)))
            .attr("fill", "none")
            .attr("stroke", "#0000ff")
            .attr("stroke-width", 1.1)
        bg.append("line")
            .attr("x1", cx - boxW / 2).attr("x2", cx + boxW / 2)
            .attr("y1", y(med)).attr("y2", y(med))
            .attr("stroke", "#ff0000")
            .attr("stroke-width", 1.1)
        p.outliers[si][pi].forEach((v) => {
            bg.append("path")
                .attr("d", `M${cx - 4.5},${y(v)}H${cx + 4.5}M${cx},${y(v) - 4.5}V${y(v) + 4.5}`)
                .attr("stroke", "#0000ff")
                .attr("stroke-width", 1.3)
        })
    }))
}

panels.forEach(drawPanel)

// legend
const legend = svg.append("g")
const legendBox = legend.append("rect")
    .attr("y", 888.5).attr("height", 33)
    .attr("fill", "#fff")
    .attr("stroke", "#333")
let lx = 376
packages.forEach((name, i) => {
    legend.append("rect")
        .attr("x", lx).attr("y", 898)
        .attr("width", 34).attr("height", 15)
        .attr("fill", packageColors[i])
        .attr("stroke", d3.color(packageColors[i]).brighter(0.4))
    const t = legend.append("text")
        .attr("x", lx + 36).attr("y", 914)
        .attr("font-family", sans)
        .attr("font-size", 24)
        .attr("fill", "#000")
        .text(name)
    lx += 36 + t.node().getComputedTextLength() + 8
})
legendBox.attr("x", 371.5).attr("width", lx - 8 + 3 - 371.5)

// caption
captionLines.forEach((parts, li) => {
    const t = svg.append("text")
        .attr("x", 25)
        .attr("y", 976 + li * 25.1)
        .attr("font-family", sans)
        .attr("font-size", 17)
        .attr("fill", "#333")
        .attr("textLength", captionLineEnds[li] - 25)
        .attr("lengthAdjust", "spacing")
    parts.forEach(([txt, kind]) => {
        t.append("tspan")
            .attr("font-weight", kind === "bold" ? "bold" : null)
            .attr("fill", kind === "cite" ? "#9a9a9a" : null)
            .text(txt)
    })
})
</script>
</body>
</html>
